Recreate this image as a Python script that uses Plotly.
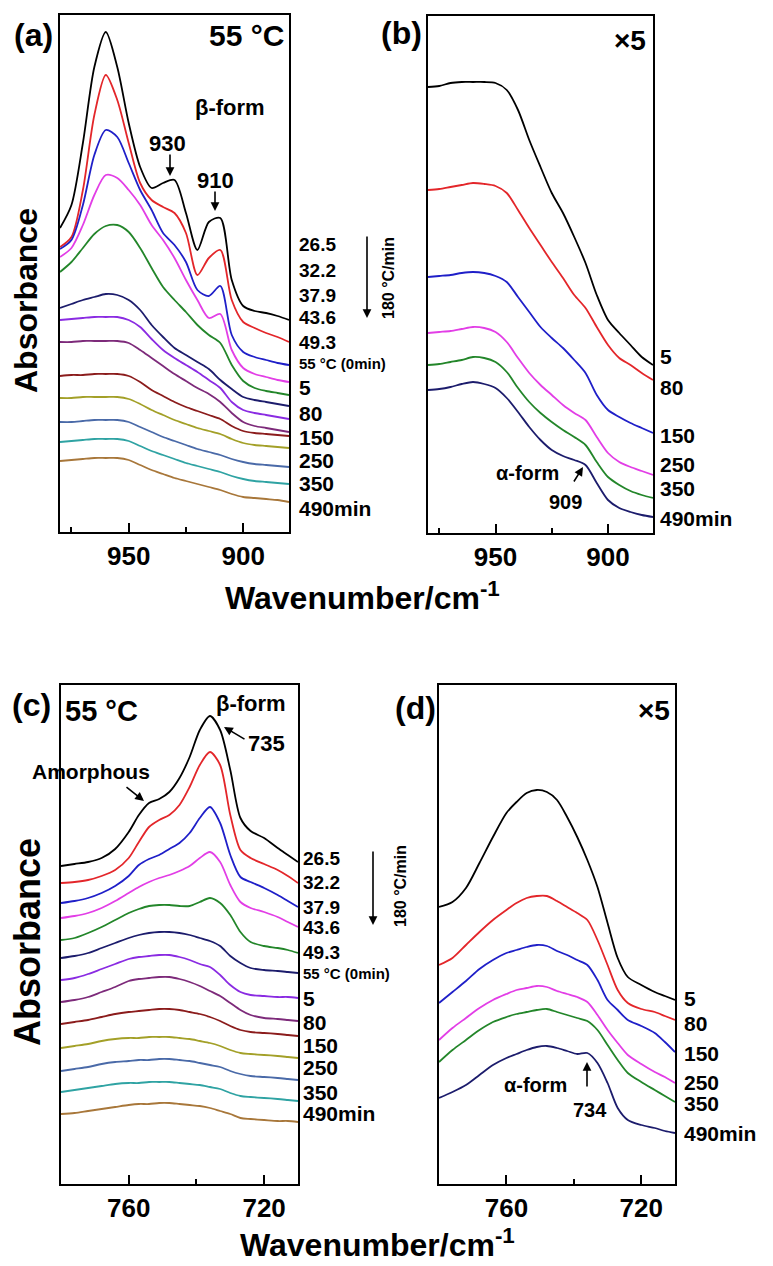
import plotly.graph_objects as go

W, H = 773, 1266
FONT = "Liberation Sans, Arial, sans-serif"

# ---------------- data ----------------
wn_ab = [980, 975, 970, 965, 960, 955, 950, 945, 940, 935, 930, 925, 920, 915, 910, 905, 900, 895, 890, 885, 880]

a_26_5 = [3.04, 3.27, 3.89, 4.65, 5.00, 4.65, 4.09, 3.65, 3.44, 3.49, 3.52, 3.19, 2.82, 3.10, 3.14, 2.52, 2.26, 2.21, 2.19, 2.16, 2.12]
a_32_2 = [2.85, 2.95, 3.42, 4.17, 4.57, 4.32, 3.89, 3.49, 3.32, 3.25, 3.19, 2.99, 2.57, 2.74, 2.82, 2.32, 2.10, 2.04, 1.99, 1.95, 1.90]
a_37_9 = [2.83, 2.92, 3.27, 3.77, 4.02, 3.95, 3.69, 3.42, 3.22, 2.99, 2.87, 2.70, 2.42, 2.36, 2.46, 1.97, 1.80, 1.75, 1.72, 1.69, 1.67]
a_43_6 = [2.75, 2.84, 3.07, 3.37, 3.57, 3.54, 3.42, 3.27, 3.07, 2.92, 2.74, 2.52, 2.32, 2.14, 2.18, 1.82, 1.64, 1.58, 1.55, 1.52, 1.50]
a_49_3 = [2.60, 2.70, 2.84, 2.98, 3.06, 3.07, 3.00, 2.84, 2.64, 2.45, 2.32, 2.20, 2.07, 1.97, 1.89, 1.67, 1.51, 1.44, 1.41, 1.39, 1.37]
a_55_0 = [2.24, 2.28, 2.32, 2.35, 2.38, 2.37, 2.32, 2.22, 2.07, 1.95, 1.84, 1.77, 1.70, 1.63, 1.52, 1.43, 1.35, 1.32, 1.30, 1.28, 1.26]
a_5 = [2.12, 2.13, 2.14, 2.15, 2.15, 2.15, 2.12, 2.05, 1.93, 1.82, 1.74, 1.67, 1.60, 1.52, 1.44, 1.30, 1.22, 1.19, 1.17, 1.15, 1.13]
a_80 = [1.90, 1.90, 1.91, 1.91, 1.91, 1.91, 1.89, 1.82, 1.74, 1.66, 1.58, 1.51, 1.44, 1.38, 1.30, 1.19, 1.10, 1.06, 1.04, 1.02, 1.00]
a_150 = [1.56, 1.57, 1.57, 1.58, 1.58, 1.58, 1.56, 1.50, 1.42, 1.36, 1.30, 1.25, 1.21, 1.17, 1.13, 1.06, 1.01, 0.99, 0.98, 0.97, 0.96]
a_250 = [1.34, 1.34, 1.35, 1.35, 1.35, 1.35, 1.33, 1.28, 1.22, 1.17, 1.12, 1.08, 1.04, 1.01, 0.98, 0.93, 0.89, 0.87, 0.86, 0.85, 0.84]
a_350 = [1.10, 1.10, 1.11, 1.12, 1.12, 1.12, 1.10, 1.05, 1.00, 0.95, 0.91, 0.87, 0.83, 0.80, 0.77, 0.73, 0.70, 0.68, 0.67, 0.66, 0.65]
a_490 = [0.90, 0.91, 0.92, 0.93, 0.93, 0.93, 0.91, 0.86, 0.81, 0.77, 0.73, 0.69, 0.66, 0.63, 0.60, 0.56, 0.53, 0.51, 0.50, 0.49, 0.48]
a_extra = [0.71, 0.72, 0.73, 0.74, 0.74, 0.74, 0.72, 0.67, 0.62, 0.58, 0.54, 0.51, 0.48, 0.45, 0.42, 0.38, 0.35, 0.34, 0.33, 0.32, 0.30]

b_5 = [4.46, 4.47, 4.50, 4.51, 4.51, 4.51, 4.50, 4.43, 4.23, 3.93, 3.66, 3.40, 3.20, 2.96, 2.70, 2.38, 2.13, 2.00, 1.88, 1.76, 1.68]
b_80 = [3.43, 3.44, 3.46, 3.48, 3.50, 3.49, 3.47, 3.40, 3.23, 3.05, 2.88, 2.71, 2.55, 2.38, 2.25, 2.06, 1.88, 1.75, 1.68, 1.60, 1.53]
b_150 = [2.56, 2.57, 2.58, 2.60, 2.61, 2.60, 2.57, 2.51, 2.36, 2.21, 2.06, 1.95, 1.85, 1.73, 1.60, 1.38, 1.23, 1.16, 1.10, 1.05, 1.00]
b_250 = [2.00, 2.01, 2.02, 2.04, 2.06, 2.05, 2.01, 1.91, 1.75, 1.60, 1.48, 1.38, 1.28, 1.20, 1.13, 0.96, 0.80, 0.71, 0.66, 0.62, 0.58]
b_350 = [1.68, 1.69, 1.71, 1.73, 1.76, 1.75, 1.71, 1.61, 1.45, 1.31, 1.20, 1.11, 1.03, 0.96, 0.88, 0.71, 0.56, 0.48, 0.42, 0.38, 0.35]
b_490 = [1.43, 1.44, 1.46, 1.49, 1.51, 1.49, 1.45, 1.35, 1.21, 1.06, 0.93, 0.83, 0.77, 0.73, 0.68, 0.50, 0.33, 0.25, 0.21, 0.18, 0.16]

wn_cd = [780, 776, 772, 768, 764, 760, 757, 754, 751, 748, 745, 742, 739, 736, 733, 730, 727, 724, 720, 716, 713, 710]

c_26_5 = [3.18, 3.20, 3.22, 3.26, 3.35, 3.52, 3.69, 3.81, 3.85, 3.92, 4.06, 4.27, 4.54, 4.68, 4.54, 4.14, 3.66, 3.53, 3.46, 3.36, 3.29, 3.22]
c_32_2 = [3.01, 3.02, 3.04, 3.08, 3.14, 3.26, 3.42, 3.57, 3.64, 3.69, 3.79, 3.97, 4.19, 4.32, 4.19, 3.69, 3.34, 3.26, 3.20, 3.14, 3.08, 3.01]
c_37_9 = [2.81, 2.83, 2.86, 2.91, 2.98, 3.08, 3.19, 3.25, 3.29, 3.35, 3.41, 3.51, 3.66, 3.77, 3.61, 3.29, 3.07, 3.02, 2.96, 2.89, 2.83, 2.77]
c_43_6 = [2.66, 2.68, 2.71, 2.76, 2.83, 2.91, 2.97, 3.02, 3.06, 3.09, 3.13, 3.18, 3.26, 3.32, 3.22, 2.99, 2.82, 2.76, 2.72, 2.67, 2.62, 2.57]
c_49_3 = [2.44, 2.46, 2.51, 2.57, 2.64, 2.71, 2.75, 2.78, 2.79, 2.79, 2.78, 2.78, 2.82, 2.86, 2.81, 2.69, 2.52, 2.42, 2.38, 2.36, 2.34, 2.31]
c_55_0 = [2.26, 2.28, 2.31, 2.36, 2.41, 2.46, 2.49, 2.51, 2.52, 2.52, 2.51, 2.49, 2.46, 2.43, 2.38, 2.28, 2.21, 2.16, 2.14, 2.13, 2.12, 2.11]
c_5 = [2.04, 2.06, 2.10, 2.15, 2.20, 2.25, 2.27, 2.28, 2.29, 2.29, 2.27, 2.24, 2.20, 2.17, 2.09, 1.99, 1.92, 1.89, 1.88, 1.87, 1.87, 1.86]
c_80 = [1.82, 1.84, 1.87, 1.92, 1.97, 2.03, 2.05, 2.06, 2.07, 2.07, 2.05, 2.02, 1.98, 1.93, 1.88, 1.81, 1.74, 1.69, 1.66, 1.65, 1.64, 1.63]
c_150 = [1.60, 1.62, 1.64, 1.67, 1.70, 1.72, 1.73, 1.74, 1.75, 1.75, 1.74, 1.72, 1.70, 1.67, 1.63, 1.58, 1.54, 1.52, 1.51, 1.50, 1.49, 1.48]
c_250 = [1.36, 1.38, 1.40, 1.43, 1.45, 1.46, 1.46, 1.47, 1.47, 1.47, 1.46, 1.45, 1.43, 1.41, 1.38, 1.34, 1.31, 1.30, 1.29, 1.28, 1.27, 1.26]
c_350 = [1.13, 1.15, 1.17, 1.20, 1.22, 1.23, 1.24, 1.24, 1.25, 1.25, 1.24, 1.23, 1.21, 1.19, 1.17, 1.13, 1.10, 1.08, 1.07, 1.06, 1.05, 1.04]
c_490 = [0.92, 0.94, 0.96, 0.98, 1.00, 1.01, 1.01, 1.02, 1.02, 1.02, 1.01, 1.00, 0.99, 0.97, 0.95, 0.91, 0.88, 0.87, 0.86, 0.85, 0.84, 0.83]
c_extra = [0.70, 0.71, 0.73, 0.75, 0.77, 0.79, 0.80, 0.80, 0.81, 0.81, 0.80, 0.79, 0.78, 0.76, 0.73, 0.70, 0.66, 0.65, 0.64, 0.63, 0.63, 0.62]

d_5 = [2.77, 2.82, 2.96, 3.21, 3.47, 3.71, 3.82, 3.91, 3.94, 3.92, 3.84, 3.67, 3.47, 3.24, 2.97, 2.61, 2.26, 2.07, 1.99, 1.92, 1.88, 1.84]
d_80 = [2.19, 2.26, 2.39, 2.52, 2.64, 2.74, 2.81, 2.86, 2.88, 2.88, 2.83, 2.77, 2.71, 2.64, 2.44, 2.19, 1.94, 1.81, 1.75, 1.72, 1.68, 1.64]
d_150 = [1.81, 1.92, 2.03, 2.15, 2.24, 2.31, 2.34, 2.37, 2.39, 2.38, 2.33, 2.29, 2.24, 2.19, 2.04, 1.84, 1.74, 1.64, 1.58, 1.51, 1.42, 1.32]
d_250 = [1.44, 1.56, 1.66, 1.76, 1.84, 1.90, 1.94, 1.96, 1.98, 1.97, 1.93, 1.90, 1.87, 1.82, 1.69, 1.54, 1.41, 1.29, 1.20, 1.12, 1.07, 1.01]
d_350 = [1.22, 1.34, 1.44, 1.54, 1.62, 1.67, 1.70, 1.72, 1.74, 1.75, 1.72, 1.69, 1.66, 1.63, 1.54, 1.39, 1.24, 1.11, 1.02, 0.94, 0.88, 0.82]
d_490 = [0.86, 0.92, 0.99, 1.09, 1.19, 1.26, 1.30, 1.34, 1.37, 1.38, 1.36, 1.33, 1.30, 1.31, 1.21, 1.01, 0.76, 0.64, 0.59, 0.56, 0.53, 0.51]

labels_full = ["26.5", "32.2", "37.9", "43.6", "49.3", "55 °C (0min)", "5", "80", "150", "250", "350", "490min"]
labels_x5 = ["5", "80", "150", "250", "350", "490min"]

colors13 = ["#000000", "#e3262a", "#1f1fc8", "#e23ee6", "#23862a", "#1c1c6c", "#8a2be2",
            "#7d2a7a", "#8b1c1c", "#a3a028", "#4a6aa8", "#2fa3a3", "#a8773a"]
colors6 = colors13[:6]

series_a = [a_26_5, a_32_2, a_37_9, a_43_6, a_49_3, a_55_0, a_5, a_80, a_150, a_250, a_350, a_490, a_extra]
series_b = [b_5, b_80, b_150, b_250, b_350, b_490]
series_c = [c_26_5, c_32_2, c_37_9, c_43_6, c_49_3, c_55_0, c_5, c_80, c_150, c_250, c_350, c_490, c_extra]
series_d = [d_5, d_80, d_150, d_250, d_350, d_490]

# ---------------- figure ----------------
fig = go.Figure()

def add_panel(xs, series, colors, ax):
    for ys, col in zip(series, colors):
        fig.add_trace(go.Scatter(x=xs, y=ys, mode="lines", xaxis="x" + ax, yaxis="y" + ax,
                                 line=dict(color=col, width=1.8, shape="spline", smoothing=0.8),
                                 showlegend=False, hoverinfo="skip"))

add_panel(wn_ab, series_a, colors13, "")
add_panel(wn_ab, series_b, colors6, "2")
add_panel(wn_cd, series_c, colors13, "3")
add_panel(wn_cd, series_d, colors6, "4")

def px2x(p):
    return p / W

def px2y(p):
    return 1 - p / H

def xax(dom, rng, major, minor):
    return dict(domain=[px2x(dom[0]), px2x(dom[1])], range=rng, showline=True, mirror=True,
                linecolor="black", linewidth=1.6, ticks="inside", ticklen=9, tickwidth=1.5,
                tickcolor="black", tickvals=major, ticktext=[str(v) for v in major],
                tickfont=dict(family=FONT, size=26, color="black", weight="bold"),
                ticklabelstandoff=0,
                minor=dict(tickvals=minor, ticks="inside", ticklen=5, tickwidth=1.5, tickcolor="black"),
                showgrid=False, zeroline=False, fixedrange=True)

def yax(dom, top, anchor):
    return dict(domain=[px2y(dom[1]), px2y(dom[0])], range=[0, top], showline=True, mirror=True,
                linecolor="black", linewidth=1.6, ticks="", showticklabels=False,
                showgrid=False, zeroline=False, anchor=anchor)

fig.update_layout(
    width=W, height=H, margin=dict(l=0, r=0, t=0, b=0),
    paper_bgcolor="white", plot_bgcolor="white",
    xaxis=dict(**xax((60, 289), [980, 880], [950, 900], [975, 925]), anchor="y"),
    yaxis=yax((15, 532), 5.17, "x"),
    xaxis2=dict(**xax((428, 653), [980, 880], [950, 900], [975, 925]), anchor="y2"),
    yaxis2=yax((16, 533), 5.17, "x2"),
    xaxis3=dict(**xax((61, 298), [780, 710], [760, 720], [740]), anchor="y3"),
    yaxis3=yax((685, 1184), 4.99, "x3"),
    xaxis4=dict(**xax((439, 675), [780, 710], [760, 720], [740]), anchor="y4"),
    yaxis4=yax((685, 1184), 4.99, "x4"),
)

ann = []

def text(t, x, y, size, xanchor="center", angle=0, yanchor="middle"):
    ann.append(dict(text=t, x=px2x(x), y=px2y(y), xref="paper", yref="paper",
                    xanchor=xanchor, yanchor=yanchor, showarrow=False, textangle=angle,
                    font=dict(family=FONT, size=size, color="black", weight="bold")))

def arrow(x0, y0, x1, y1):
    # tail (x0,y0) -> head (x1,y1), pixel coords
    ann.append(dict(text="", x=px2x(x1), y=px2y(y1), xref="paper", yref="paper",
                    ax=x0 - x1, ay=y0 - y1, axref="pixel", ayref="pixel",
                    showarrow=True, arrowhead=2, arrowsize=1.1, arrowwidth=1.6, arrowcolor="black"))

# panel (a)
text("(a)", 33, 35, 32)
text("55 °C", 246, 36, 30)
text("β-form", 230, 108, 22)
text("930", 167, 144, 22)
arrow(170, 153, 170, 176)
text("910", 215, 180, 22)
arrow(215, 190, 215, 211)
ya = [245, 270, 295, 317, 342, 363, 387, 413, 437, 460, 483, 508]
for lab, yy in zip(labels_full, ya):
    sz = 15 if "°" in lab else (19 if "." in lab else 21)
    text(lab, 297, yy, sz, xanchor="left")
arrow(367, 235, 367, 318)
text("180 °C/min", 389, 278, 16, angle=-90)
text("Absorbance", 26, 301, 32, angle=-90)
text("Wavenumber/cm<sup>-1</sup>", 362, 574, 32, yanchor="top")

# panel (b)
text("(b)", 401, 33, 32)
text("×5", 630, 41, 28)
yb = [357, 387, 435, 465, 488, 518]
for lab, yy in zip(labels_x5, yb):
    text(lab, 658, yy, 21, xanchor="left")
text("α-form", 527, 473, 20)
arrow(573, 483, 583, 467)
text("909", 565, 502, 20)

# panel (c)
text("(c)", 31, 705, 32)
text("55 °C", 101, 711, 29)
text("β-form", 251, 703, 22)
text("735", 266, 743, 22)
arrow(246, 740, 224, 727)
text("Amorphous", 91, 771, 21)
arrow(125, 786, 144, 801)
yc = [858, 882, 907, 927, 952, 973, 998, 1022, 1045, 1067, 1092, 1113]
for lab, yy in zip(labels_full, yc):
    sz = 15 if "°" in lab else (19 if "." in lab else 21)
    text(lab, 301, yy, sz, xanchor="left")
arrow(373, 850, 373, 925)
text("180 °C/min", 400, 886, 16, angle=-90)
text("Absorbance", 27, 942, 36, angle=-90)
text("Wavenumber/cm<sup>-1</sup>", 377, 1265, 32, yanchor="bottom")

# panel (d)
text("(d)", 415, 708, 32)
text("×5", 654, 710, 28)
yd = [998, 1023, 1053, 1082, 1103, 1133]
for lab, yy in zip(labels_x5, yd):
    text(lab, 682, yy, 21, xanchor="left")
text("α-form", 535, 1085, 20)
text("734", 590, 1110, 20)
arrow(587, 1088, 587, 1062)

fig.update_layout(annotations=ann)
fig.write_html("out.html")
